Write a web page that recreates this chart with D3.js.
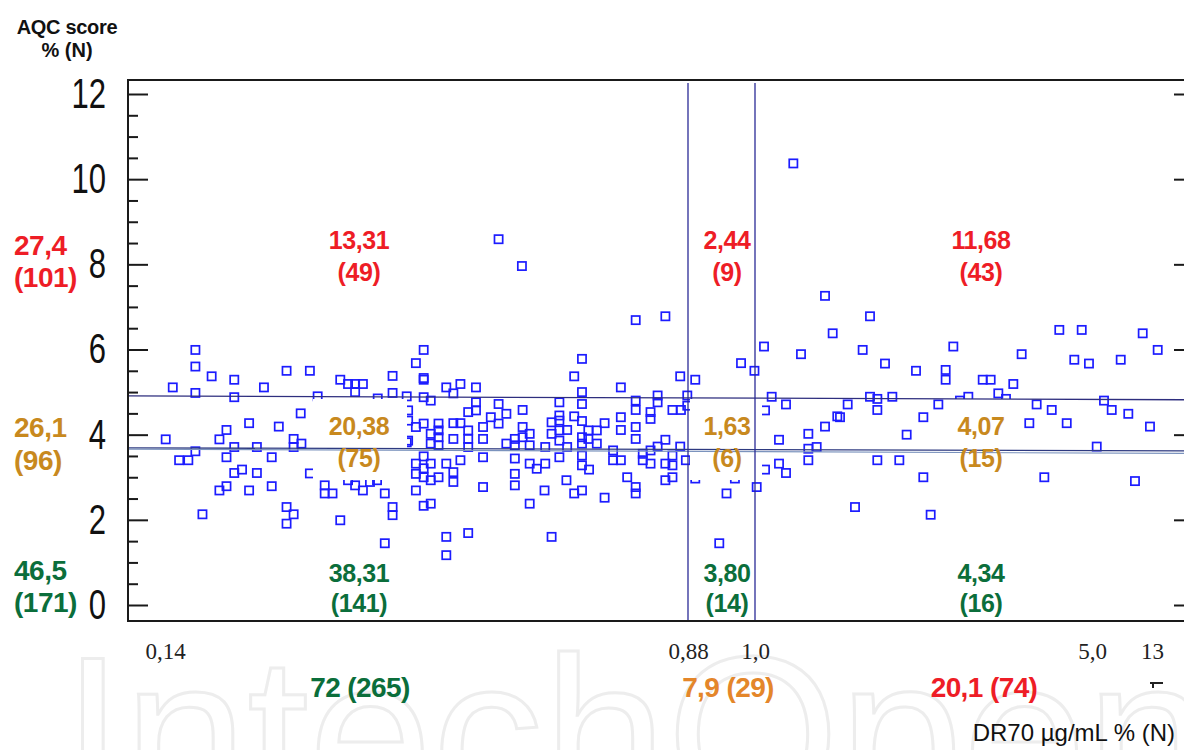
<!DOCTYPE html>
<html><head><meta charset="utf-8">
<script src="https://cdn.jsdelivr.net/npm/d3@7"></script>
<style>body{margin:0;background:#fff} svg{display:block}</style>
</head><body>
<svg id="chart" width="1184" height="750"></svg>
<script>
// ---------------- DATA ----------------
const xTickValues = [0.14, 0.88, 1.0, 5.0, 13];
const xTickLabels = ["0,14", "0,88", "1,0", "5,0", "13"];
const yTickValues = [0, 2, 4, 6, 8, 10, 12];
const yMinorTickValues = [0.5, 1, 1.5, 2.5, 3, 3.5, 4.5, 5, 5.5, 6.5, 7, 7.5, 8.5, 9, 9.5, 10.5, 11, 11.5];
const thresholds = [0.88, 1.0];
// fitted horizontal lines: [AQC at left edge, AQC at right edge]
const fitLines = [[4.91, 4.82], [3.69, 3.62], [3.66, 3.56]];

// points: [DR70 µg/mL, AQC score]
const lowDR70Points = [
 [0.183,5.99],[0.183,5.60],[0.206,5.37],[0.151,5.11],[0.183,4.98],[0.238,5.29],[0.238,4.88],[0.280,5.11],
 [0.312,5.50],[0.345,5.50],[0.388,5.29],[0.399,5.19],[0.409,5.19],[0.420,5.19],[0.409,5.00],[0.356,4.90],
 [0.462,5.38],[0.462,4.98],[0.506,5.99],[0.495,5.68],[0.506,5.29],[0.482,4.90],[0.506,4.88],[0.441,4.85],
 [0.141,3.89],[0.183,3.61],[0.160,3.40],[0.173,3.40],[0.227,4.11],[0.217,3.89],[0.238,3.71],[0.227,3.47],
 [0.259,4.27],[0.270,3.71],[0.301,4.19],[0.291,3.47],[0.322,3.90],[0.322,3.71],[0.333,3.79],[0.332,4.50],
 [0.249,3.18],[0.238,3.10],[0.270,3.10],[0.217,2.69],[0.227,2.79],[0.259,2.69],[0.291,2.79],[0.193,2.13],
 [0.312,2.30],[0.322,2.13],[0.312,1.91],[0.388,1.99],[0.451,1.45],[0.345,3.09],[0.366,2.81],[0.366,2.62],
 [0.377,2.62],[0.399,2.93],[0.409,2.81],[0.420,2.69],[0.430,2.89],[0.440,2.93],[0.451,2.62],[0.462,2.30],
 [0.462,2.11],[0.495,2.69],[0.506,2.33],[0.506,4.26],[0.495,4.18],[0.484,4.57],[0.484,4.33],[0.506,3.49],
 [0.495,3.32],[0.495,3.08],[0.506,3.21],[0.506,3.00],[0.482,3.82],[0.484,3.86],[0.516,4.80],[0.538,5.11],
 [0.548,4.97],[0.558,5.19],[0.580,5.11],[0.580,4.76],[0.580,4.57],[0.612,4.72],[0.569,4.53],[0.601,4.41],
 [0.612,4.26],[0.623,4.49],[0.646,4.58],[0.516,4.02],[0.516,3.79],[0.527,4.26],[0.527,4.10],[0.527,3.94],
 [0.527,3.75],[0.548,4.27],[0.558,4.27],[0.548,3.90],[0.569,4.10],[0.569,3.90],[0.569,3.71],[0.590,4.18],
 [0.590,3.90],[0.590,3.47],[0.623,3.79],[0.635,3.90],[0.635,3.75],[0.646,4.18],[0.646,3.94],[0.656,4.02],
 [0.656,3.75],[0.678,3.71],[0.687,4.29],[0.687,4.02],[0.698,4.76],[0.698,4.33],[0.698,4.10],[0.516,3.32],
 [0.516,2.93],[0.527,3.00],[0.538,3.32],[0.548,3.12],[0.548,2.89],[0.558,3.40],[0.516,2.38],[0.590,2.77],
 [0.635,3.44],[0.635,3.08],[0.635,2.81],[0.656,3.32],[0.666,3.20],[0.678,3.32],[0.677,2.69],[0.656,2.38],
 [0.538,1.60],[0.569,1.69],[0.687,1.60],[0.538,1.17],[0.698,3.47],[0.612,8.59],[0.645,7.96],[0.806,6.69],
 [0.848,6.78],[0.730,5.78],[0.719,5.37],[0.785,5.11],[0.869,5.37],[0.730,5.00],[0.730,4.72],[0.698,4.45],
 [0.719,4.43],[0.730,4.32],[0.709,4.11],[0.739,4.10],[0.751,4.10],[0.762,4.27],[0.730,3.94],[0.730,3.79],
 [0.739,3.90],[0.751,3.79],[0.785,4.41],[0.785,4.11],[0.806,4.80],[0.806,4.58],[0.806,4.18],[0.806,3.90],
 [0.837,4.92],[0.837,4.76],[0.827,4.53],[0.827,4.37],[0.858,4.58],[0.870,4.58],[0.879,4.92],[0.879,4.68],
 [0.709,3.71],[0.698,3.86],[0.730,3.51],[0.730,3.28],[0.740,3.18],[0.774,3.63],[0.774,3.40],[0.785,3.40],
 [0.816,3.55],[0.816,3.40],[0.827,3.63],[0.827,3.32],[0.837,3.72],[0.848,3.88],[0.848,3.32],[0.848,2.93],
 [0.858,3.51],[0.858,3.28],[0.858,3.00],[0.869,3.72],[0.877,3.40],[0.794,3.00],[0.806,2.77],[0.806,2.62],
 [0.708,2.93],[0.719,2.62],[0.730,2.69],[0.762,2.52],[0.506,5.33],
 [0.373,4.33],[0.402,3.75],[0.430,4.10],[0.458,3.51],[0.395,3.16],[0.373,3.40]
];
const midDR70Points = [
 [0.893,5.29],[0.975,5.68],[0.999,5.50],[0.919,4.71],[0.975,4.71],[0.893,2.97],[0.964,2.97],
 [0.949,2.62],[0.936,1.45],[0.910,4.10],[0.946,3.51],[0.973,4.33]
];
const highDR70Points = [
 [1.455,10.37],[1.831,7.26],[2.365,6.78],[1.922,6.38],[1.107,6.07],[1.546,5.89],[2.278,5.99],[2.543,5.67],
 [2.911,5.50],[3.354,6.07],[3.263,5.52],[3.263,5.29],[4.165,5.89],[4.612,6.46],[4.878,6.46],[4.790,5.76],
 [4.964,5.67],[8.83,5.76],[11.76,6.38],[13.76,5.99],[3.703,5.29],[3.797,5.29],[3.888,4.97],[4.066,5.19],
 [3.979,4.84],[3.532,4.89],[3.433,4.80],[1.198,4.89],[1.368,4.71],[1.119,4.57],[2.100,4.71],[2.365,4.89],
 [2.452,4.84],[2.452,4.58],[2.630,4.89],[3.176,4.71],[2.998,4.41],[2.009,4.41],[1.831,4.19],[4.343,4.71],
 [4.522,4.58],[6.60,4.80],[7.63,4.58],[9.84,4.49],[4.256,4.27],[4.700,4.27],[12.73,4.19],[2.800,4.00],
 [1.633,4.02],[1.285,3.88],[1.633,3.67],[1.732,3.71],[1.633,3.40],[1.977,4.43],[5.63,3.72],[2.452,3.40],
 [2.713,3.40],[1.285,3.32],[1.368,3.10],[1.119,3.18],[1.020,2.77],[2.998,3.00],[4.434,3.00],[10.73,2.91],
 [2.187,2.30],[3.085,2.12],[3.492,4.22],[3.908,3.51],[3.730,3.86]
];

// annotation texts
const aqcRowLabels = [["27,4", "(101)"], ["26,1", "(96)"], ["46,5", "(171)"]];
const cellLabels = [
 [["13,31", "(49)"], ["2,44", "(9)"], ["11,68", "(43)"]],
 [["20,38", "(75)"], ["1,63", "(6)"], ["4,07", "(15)"]],
 [["38,31", "(141)"], ["3,80", "(14)"], ["4,34", "(16)"]]
];
const dr70ColLabels = ["72 (265)", "7,9 (29)", "20,1 (74)"];

// ---------------- STYLE / LAYOUT ----------------
const rowColors = ["#ee1d26", "#c8891e", "#0b6e3b"];
const colColors = ["#0b6e3b", "#e4862a", "#ee1d26"];
const colCenters = [359, 727, 981];
const rowBaselines = [[249, 281], [435, 467], [582, 612]];
const leftBaselines = [[255, 287], [437, 470], [580, 612]];
const bottomCenters = [360, 728, 984];
const boxes = [[313, 399, 94, 81], [690, 399, 72, 81], [953, 399, 70, 81]];
const plotLeft = 128, plotRight = 1184, plotTop = 80, plotBottom = 621;

const svg = d3.select("#chart");
const x = d3.scaleLinear().domain(xTickValues).range([165, 688, 755, 1092, 1152]);
const y = d3.scaleLinear().domain([0, 12]).range([605, 94]);
const sans = "Liberation Sans, Arial, sans-serif";

// watermark
svg.append("text").attr("x", 62).attr("y", 812)
  .attr("font-family", sans).attr("font-size", 222)
  .attr("fill", "none").attr("stroke", "#ededed").attr("stroke-width", 3)
  .text("IntechOpen");

// points
const allPoints = lowDR70Points.concat(midDR70Points, highDR70Points);
const s = 8.2;
svg.append("g").selectAll("rect").data(allPoints).join("rect")
  .attr("x", d => x(d[0]) - s / 2).attr("y", d => y(d[1]) - s / 2)
  .attr("width", s).attr("height", s)
  .attr("fill", "none").attr("stroke", "#1c1cff").attr("stroke-width", 1.7);

// white label boxes
svg.append("g").selectAll("rect").data(boxes).join("rect")
  .attr("x", d => d[0]).attr("y", d => d[1]).attr("width", d => d[2]).attr("height", d => d[3])
  .attr("fill", "#fff");

// fitted lines
const fitColors = ["#2e2e7e", "#2e3a80", "#7b93bd"];
svg.append("g").selectAll("line").data(fitLines).join("line")
  .attr("x1", plotLeft).attr("x2", plotRight)
  .attr("y1", d => y(d[0])).attr("y2", d => y(d[1]))
  .attr("stroke", (d, i) => fitColors[i]).attr("stroke-width", (d, i) => i === 2 ? 1.2 : 1.3);

// threshold lines
svg.append("g").selectAll("line").data(thresholds).join("line")
  .attr("x1", d => x(d)).attr("x2", d => x(d))
  .attr("y1", 83).attr("y2", plotBottom)
  .attr("stroke", "#2a2a96").attr("stroke-width", 1.3);

// frame
const frame = svg.append("g").attr("stroke", "#1a1a1a").attr("stroke-width", 2);
frame.append("line").attr("x1", plotLeft).attr("x2", plotRight).attr("y1", plotTop).attr("y2", plotTop);
frame.append("line").attr("x1", plotLeft).attr("x2", plotRight).attr("y1", plotBottom).attr("y2", plotBottom);
frame.append("line").attr("x1", plotLeft).attr("x2", plotLeft).attr("y1", plotTop - 1).attr("y2", plotBottom + 1);

// y axis (major, inward)
const gy = svg.append("g").attr("transform", `translate(${plotLeft},0)`)
  .call(d3.axisLeft(y).tickValues(yTickValues).tickSize(-20).tickPadding(22));
gy.select(".domain").remove();
gy.selectAll(".tick line").attr("stroke", "#1a1a1a").attr("stroke-width", 2);
gy.selectAll(".tick text")
  .attr("x", null)
  .attr("transform", "translate(-22,0) scale(0.74,1)")
  .attr("font-family", sans).attr("font-size", 42)
  .attr("fill", "#111");
// minor ticks
const gym = svg.append("g").attr("transform", `translate(${plotLeft},0)`)
  .call(d3.axisLeft(y).tickValues(yMinorTickValues).tickSize(-10).tickFormat(""));
gym.select(".domain").remove();
gym.selectAll(".tick line").attr("stroke", "#1a1a1a").attr("stroke-width", 2);
// right ticks
const gyr = svg.append("g").attr("transform", `translate(${plotRight},0)`)
  .call(d3.axisLeft(y).tickValues(yTickValues).tickSize(10).tickFormat(""));
gyr.select(".domain").remove();
gyr.selectAll(".tick line").attr("stroke", "#1a1a1a").attr("stroke-width", 2);

// x axis labels
const gx = svg.append("g").attr("transform", "translate(0,643)")
  .call(d3.axisBottom(x).tickValues(xTickValues).tickFormat((d, i) => xTickLabels[i]).tickSize(0).tickPadding(0));
gx.select(".domain").remove();
gx.selectAll(".tick text")
  .attr("font-family", "Liberation Serif, Times New Roman, serif").attr("font-size", 23)
  .attr("fill", "#222");

// small mark at bottom right
svg.append("path").attr("d", "M1150,683 H1163 M1153,682 V688")
  .attr("stroke", "#222").attr("stroke-width", 2).attr("fill", "none");

// axis titles
svg.append("text").attr("x", 67).attr("y", 34).attr("text-anchor", "middle")
  .attr("font-family", sans).attr("font-weight", "bold").attr("font-size", 20)
  .attr("letter-spacing", -0.3).attr("fill", "#111").text("AQC score");
svg.append("text").attr("x", 67).attr("y", 57).attr("text-anchor", "middle")
  .attr("font-family", sans).attr("font-weight", "bold").attr("font-size", 20)
  .attr("fill", "#111").text("% (N)");
svg.append("text").attr("x", 1175).attr("y", 741).attr("text-anchor", "end")
  .attr("font-family", sans).attr("font-size", 24).attr("fill", "#111")
  .text("DR70 µg/mL % (N)");

// left row labels
aqcRowLabels.forEach((lab, r) => {
  lab.forEach((t, k) => {
    svg.append("text").attr("x", 14).attr("y", leftBaselines[r][k])
      .attr("font-family", sans).attr("font-weight", "bold").attr("font-size", 28)
      .attr("letter-spacing", -0.5).attr("fill", rowColors[r]).text(t);
  });
});

// cell labels
cellLabels.forEach((row, r) => {
  row.forEach((lab, c) => {
    lab.forEach((t, k) => {
      svg.append("text").attr("x", colCenters[c]).attr("y", rowBaselines[r][k])
        .attr("text-anchor", "middle")
        .attr("font-family", sans).attr("font-weight", "bold").attr("font-size", 25)
        .attr("letter-spacing", -0.4).attr("fill", rowColors[r]).text(t);
    });
  });
});

// bottom column labels
dr70ColLabels.forEach((t, c) => {
  svg.append("text").attr("x", bottomCenters[c]).attr("y", 697)
    .attr("text-anchor", "middle")
    .attr("font-family", sans).attr("font-weight", "bold").attr("font-size", 28)
    .attr("letter-spacing", -0.6).attr("fill", colColors[c]).text(t);
});
</script>
</body></html>
